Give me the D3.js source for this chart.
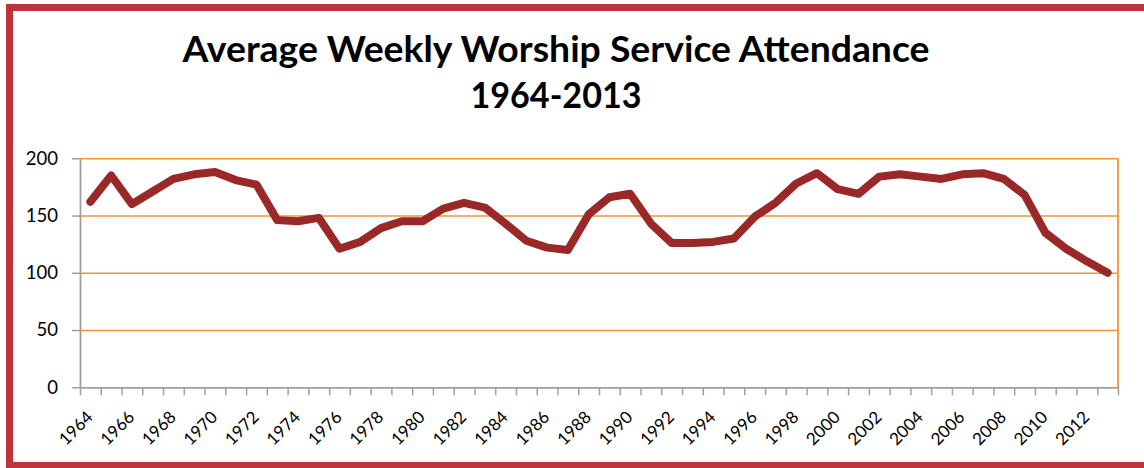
<!DOCTYPE html>
<html>
<head>
<meta charset="utf-8">
<script src="https://cdn.jsdelivr.net/npm/d3@7"></script>
<style>
  html, body { margin: 0; padding: 0; background: #fff; }
  svg { display: block; }
</style>
</head>
<body>
<svg id="chart" width="1144" height="468"></svg>
<script>
const years = d3.range(1964, 2014);
const attendance = [
  162, 185, 160, 171, 182, 186, 188, 181, 177, 146,
  145, 148, 121, 127, 139, 145, 145, 156, 161, 157,
  143, 128, 122, 120, 151, 166, 169, 143, 126, 126,
  127, 130, 149, 161, 178, 187, 173, 169, 184, 186,
  184, 182, 186, 187, 182, 168, 135, 121, 110, 100
];
const yTicks = [0, 50, 100, 150, 200];
const labelYears = d3.range(1964, 2013, 2);
const titleLines = ["Average Weekly Worship Service Attendance", "1964-2013"];

const svg = d3.select("#chart");
const plotL = 80, plotR = 1118, plotT = 158.3, plotB = 387.3;

const x = d3.scaleLinear().domain([1963.5, 2013.5]).range([plotL, plotR]);
const y = d3.scaleLinear().domain([0, 200]).range([plotB, plotT]);

// outer frame
svg.append("rect")
  .attr("x", 9.5).attr("y", 7.5)
  .attr("width", 1200).attr("height", 458)
  .attr("fill", "none")
  .attr("stroke", "#be343a")
  .attr("stroke-width", 7);

// title
svg.append("text")
  .attr("x", 556).attr("y", 62)
  .attr("text-anchor", "middle")
  .attr("font-family", "Lato, 'Open Sans', sans-serif")
  .attr("font-weight", "bold")
  .attr("font-size", 36)
  .attr("textLength", 747)
  .attr("lengthAdjust", "spacingAndGlyphs")
  .attr("fill", "#000")
  .text(titleLines[0]);
svg.append("text")
  .attr("x", 556).attr("y", 108)
  .attr("text-anchor", "middle")
  .attr("font-family", "Lato, 'Open Sans', sans-serif")
  .attr("font-weight", "bold")
  .attr("font-size", 36)
  .attr("textLength", 171)
  .attr("lengthAdjust", "spacingAndGlyphs")
  .attr("fill", "#000")
  .text(titleLines[1]);

// gridlines
const grid = svg.append("g")
  .attr("transform", `translate(${plotL},0)`)
  .call(d3.axisLeft(y).tickValues(yTicks.filter(d => d > 0)).tickSize(-(plotR - plotL)).tickFormat(""));
grid.select(".domain").remove();
grid.selectAll("line").attr("stroke", "#f0962e").attr("stroke-width", 1.6);

// right orange border
svg.append("line")
  .attr("x1", plotR).attr("x2", plotR)
  .attr("y1", plotT).attr("y2", plotB)
  .attr("stroke", "#f0962e").attr("stroke-width", 1.8);

// y axis
const yAxis = svg.append("g")
  .attr("transform", `translate(${plotL},0)`)
  .call(d3.axisLeft(y).tickValues(yTicks).tickSize(8).tickSizeOuter(0).tickPadding(14));
yAxis.select(".domain").attr("stroke", "#a69e96").attr("stroke-width", 1.8);
yAxis.selectAll("line").attr("stroke", "#a69e96").attr("stroke-width", 1.5);
yAxis.selectAll("text")
  .attr("font-family", "Lato, 'Open Sans', sans-serif")
  .attr("font-size", 18.5)
  .attr("fill", "#000");

// x axis ticks at category boundaries
const boundaries = d3.range(1963.5, 2014, 1);
const xAxis = svg.append("g")
  .attr("transform", `translate(0,${plotB})`)
  .call(d3.axisBottom(x).tickValues(boundaries).tickSize(8).tickSizeOuter(0).tickFormat(""));
xAxis.select(".domain").attr("stroke", "#a69e96").attr("stroke-width", 1.8);
xAxis.selectAll("line").attr("stroke", "#a69e96").attr("stroke-width", 1.5);

// x labels
const xLab = svg.append("g")
  .attr("transform", `translate(0,${plotB})`)
  .call(d3.axisBottom(x).tickValues(labelYears).tickSize(0).tickFormat(d3.format("d")));
xLab.select(".domain").remove();
xLab.selectAll("text")
  .attr("font-family", "Lato, 'Open Sans', sans-serif")
  .attr("font-size", 17)
  .attr("fill", "#000")
  .attr("text-anchor", "end")
  .attr("dy", null)
  .attr("y", 0)
  .attr("transform", "translate(3,31) rotate(-45)");

// line
const line = d3.line()
  .x((d, i) => x(years[i]))
  .y(d => y(d));
svg.append("path")
  .datum(attendance)
  .attr("d", line)
  .attr("fill", "none")
  .attr("stroke", "#9a2828")
  .attr("stroke-width", 8)
  .attr("stroke-linejoin", "round")
  .attr("stroke-linecap", "round");
</script>
</body>
</html>
